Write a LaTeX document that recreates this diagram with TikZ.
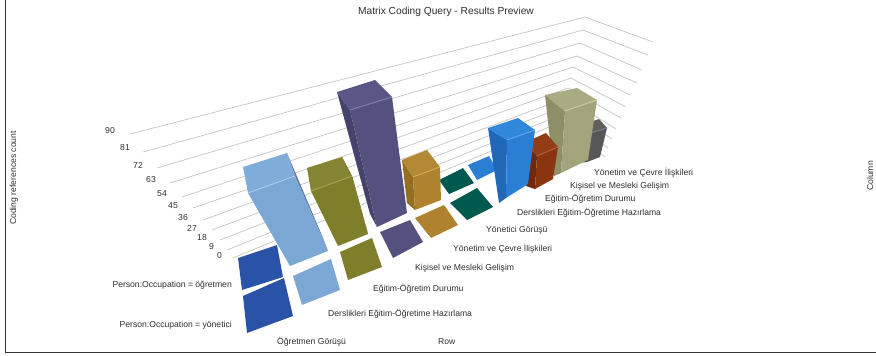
\documentclass[tikz,border=0pt]{standalone}
\usepackage{fontspec}
\setmainfont{Liberation Sans}
\usepackage{tikz}

\definecolor{framegray}{HTML}{333333}
\definecolor{gridgray}{HTML}{C4C4C4}
\definecolor{txtgray}{HTML}{2E2E2E}
\definecolor{dblue}{HTML}{2A52A6}
\definecolor{lblue}{HTML}{7BA7D5}
\definecolor{lbluetop}{HTML}{80ACDA}
\definecolor{lblueside}{HTML}{56789E}
\definecolor{lbluelt}{HTML}{AACDF0}
\definecolor{olive}{HTML}{7E7E2B}
\definecolor{olivetop}{HTML}{848432}
\definecolor{oliveside}{HTML}{64641F}
\definecolor{olivelt}{HTML}{A6A655}
\definecolor{purp}{HTML}{55517E}
\definecolor{purptop}{HTML}{5A5688}
\definecolor{purpside}{HTML}{45426B}
\definecolor{purplt}{HTML}{8480AE}
\definecolor{gold}{HTML}{AE822E}
\definecolor{goldtop}{HTML}{B48934}
\definecolor{goldside}{HTML}{946F22}
\definecolor{goldlt}{HTML}{D4AA55}
\definecolor{teal}{HTML}{00594F}
\definecolor{bblue}{HTML}{2A7FD5}
\definecolor{bbluetop}{HTML}{3088DC}
\definecolor{bblueside}{HTML}{2168B8}
\definecolor{bbluelt}{HTML}{62A8EC}
\definecolor{rust}{HTML}{8A3410}
\definecolor{rusttop}{HTML}{933D18}
\definecolor{rustside}{HTML}{6F280B}
\definecolor{rustlt}{HTML}{B5653E}
\definecolor{khaki}{HTML}{A4A47C}
\definecolor{khakitop}{HTML}{AAAA83}
\definecolor{khakiside}{HTML}{8E8E67}
\definecolor{khakilt}{HTML}{CBCBA6}
\definecolor{dgray}{HTML}{575757}
\definecolor{dgraytop}{HTML}{5F5F5F}
\definecolor{dgrayside}{HTML}{454545}
\definecolor{dgraylt}{HTML}{808080}

\tikzset{
  gridln/.style={draw=gridgray, line width=0.7pt},
  lbl/.style={font=\fontsize{8.6}{10}\selectfont, inner sep=0pt, text=txtgray},
  hilite/.style={line width=0.9pt}
}

\begin{document}
\begin{tikzpicture}[x=1pt,y=-1pt]
\useasboundingbox (0,0) rectangle (876,356);

% frame of the chart area
\draw[framegray,line width=1.4pt] (5.5,0) -- (5.5,352.3) -- (876,352.3);

% titles
\node[font=\fontsize{10.2}{12}\selectfont,text=txtgray] (title) at (446,12) {Matrix Coding Query - Results Preview};
\node[lbl,rotate=90] (ytitle) at (14,178) {Coding references count};
\node[lbl,rotate=90] (ctitle) at (870,176) {Column};

% gridlines: back wall, then right wall
\foreach \xa/\ya/\xb/\yb/\xc/\yc in {130/134/585/17/653/42, 143/152/583/30/648/55,
    157/168/580/43/642/70, 170/183/577/56/637/83, 182/197/573/67/630/95,
    193/208/571/78/626/107, 203/220/568/88/621/118, 212/230/566/98/616/129,
    220/240/563/107/612/139, 227/250/561/115/608/148, 233/258/559/123/605/157}
  \draw[gridln] (\xa,\ya) -- (\xb,\yb) -- (\xc,\yc);

% tick labels
\foreach \v/\x/\y in {90/115/131, 81/130/148, 72/143/165, 63/156/180, 54/167/194,
    45/178/206, 36/188/218, 27/197/228, 18/207/238, 9/214/247, 0/222/256}
  \node[lbl,anchor=east] (tick\v) at (\x,\y) {\v};

% bars, from the back to the front
% dark gray
\fill[dgrayside] (581,125) -- (590,133) -- (587,162) -- (578,163) -- cycle;
\fill[dgray] (590,133) -- (607,128) -- (600,157) -- (587,162) -- cycle;
\fill[dgraytop] (581,125) -- (599,119) -- (607,128) -- (590,133) -- cycle;
\draw[dgraylt,hilite] (590,133) -- (607,128);

% khaki
\fill[khakiside] (545,95) -- (565,111) -- (561,173) -- (554,176) -- cycle;
\fill[khaki] (565,111) -- (597,100) -- (588,160) -- (561,173) -- cycle;
\fill[khakitop] (545,95) -- (577,88) -- (597,100) -- (565,111) -- cycle;
\draw[khakilt,hilite] (565,111) -- (597,100);

% rust
\fill[rustside] (526,142) -- (537,156) -- (535,189) -- (526,186) -- cycle;
\fill[rust] (537,156) -- (558,147) -- (553,179) -- (535,189) -- cycle;
\fill[rusttop] (526,142) -- (546,133) -- (558,147) -- (537,156) -- cycle;
\draw[rustlt,hilite] (537,156) -- (558,147);

% bright blue
\fill[bblue] (468,165) -- (489,156) -- (497,170) -- (477,180) -- cycle;
\fill[bblueside] (488,128) -- (507,140) -- (506,198) -- (499,203) -- cycle;
\fill[bblue] (507,140) -- (535,130) -- (528,184) -- (506,198) -- cycle;
\fill[bbluetop] (488,128) -- (518,118) -- (535,130) -- (507,140) -- cycle;
\draw[bbluelt,hilite] (507,140) -- (535,130);

% teal
\fill[teal] (439,180) -- (463,168) -- (474,183) -- (449,194) -- cycle;
\fill[teal] (450,203) -- (477,188) -- (493,207) -- (467,220) -- cycle;

% gold
\fill[goldside] (402,160) -- (413,177) -- (415,210) -- (407,203) -- cycle;
\fill[gold] (413,177) -- (440,167) -- (441,200) -- (415,210) -- cycle;
\fill[goldtop] (402,160) -- (427,150) -- (440,167) -- (413,177) -- cycle;
\draw[goldlt,hilite] (413,177) -- (440,167);
\fill[gold] (415,218) -- (444,205) -- (458,225) -- (431,238) -- cycle;

% purple
\fill[purpside] (337,92) -- (350,110) -- (377,227) -- (370,214) -- cycle;
\fill[purp] (350,110) -- (392,97) -- (407,213) -- (377,227) -- cycle;
\fill[purptop] (337,92) -- (375,80) -- (392,97) -- (350,110) -- cycle;
\draw[purplt,hilite] (350,110) -- (392,97);
\fill[purp] (380,232) -- (410,220) -- (423,242) -- (393,258) -- cycle;

% olive
\fill[oliveside] (342,157) -- (352,176) -- (368,234) -- (366,226) -- cycle;
\fill[olive] (311,191) -- (352,176) -- (368,234) -- (338,246) -- cycle;
\fill[olivetop] (307,168) -- (342,157) -- (352,176) -- (311,191) -- cycle;
\draw[olivelt,hilite] (311,191) -- (352,176);
\fill[olive] (340,252) -- (372,238) -- (382,267) -- (348,280) -- cycle;

% light blue
\fill[lblueside] (287,153) -- (295,176) -- (328,251) -- (323,238) -- cycle;
\fill[lblue] (248,193) -- (295,176) -- (328,251) -- (290,266) -- cycle;
\fill[lbluetop] (243,167) -- (287,153) -- (295,176) -- (248,193) -- cycle;
\draw[lbluelt,hilite] (248,193) -- (295,176);
\fill[lblue] (293,276) -- (331,259) -- (340,290) -- (302,305) -- cycle;

% dark blue
\fill[dblue] (238,258) -- (277,245) -- (283,277) -- (242,290) -- cycle;
\fill[dblue] (243,296) -- (284,278) -- (293,316) -- (247,333) -- cycle;

% row labels
\node[lbl,anchor=east] (rowT) at (232,285) {Person:Occupation = öğretmen};
\node[lbl,anchor=east] (rowY) at (232,325) {Person:Occupation = yönetici};
\node[lbl,anchor=west] (rowtitle) at (438,342) {Row};

% column labels
\node[lbl,anchor=west] (colA) at (277,342) {Öğretmen Görüşü};
\node[lbl,anchor=west] (colB) at (328,314) {Derslikleri Eğitim-Öğretime Hazırlama};
\node[lbl,anchor=west] (colC) at (373,289) {Eğitim-Öğretim Durumu};
\node[lbl,anchor=west] (colD) at (415,268) {Kişisel ve Mesleki Gelişim};
\node[lbl,anchor=west] (colE) at (453,249) {Yönetim ve Çevre İlişkileri};
\node[lbl,anchor=west] (colF) at (486,230) {Yönetici Görüşü};
\node[lbl,anchor=west] (colG) at (517,213) {Derslikleri Eğitim-Öğretime Hazırlama};
\node[lbl,anchor=west] (colH) at (545,199) {Eğitim-Öğretim Durumu};
\node[lbl,anchor=west] (colI) at (570,186) {Kişisel ve Mesleki Gelişim};
\node[lbl,anchor=west] (colJ) at (594,173) {Yönetim ve Çevre İlişkileri};
\end{tikzpicture}
\end{document}
